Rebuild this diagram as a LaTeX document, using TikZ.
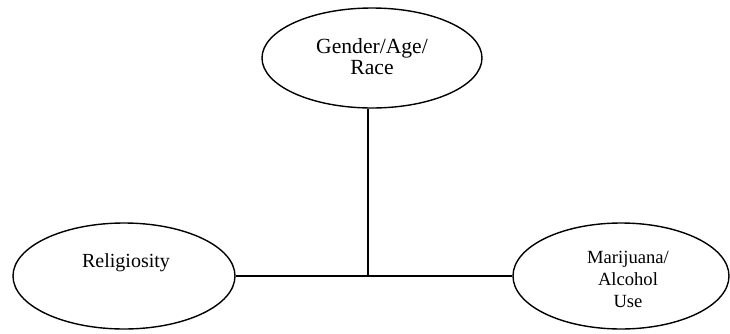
\documentclass[tikz,border=0pt]{standalone}
\usepackage{fontspec}
\setmainfont{Liberation Serif}
\usetikzlibrary{shapes.geometric}
\begin{document}
\begin{tikzpicture}[x=0.5pt,y=-0.5pt,
  oval/.style={draw, ellipse, line width=0.7pt, inner sep=0pt},
  lbl/.style={align=center, inner sep=0pt},
  conn/.style={line width=0.7pt}]
\useasboundingbox (0,0) rectangle (730,333);
\node[oval, minimum width=110pt, minimum height=50pt] (top) at (372,58) {};
\node[oval, minimum width=111pt, minimum height=53pt] (left) at (124,276) {};
\node[oval, minimum width=108pt, minimum height=53pt] (right) at (621,276) {};
\node[lbl, font=\fontsize{10.8}{10.5}\selectfont] (toplbl) at (372,57) {Gender/Age/\\Race};
\node[lbl, font=\fontsize{10}{12}\selectfont] (leftlbl) at (126,263) {Religiosity};
\node[lbl, font=\fontsize{9.3}{11}\selectfont] (rightlbl) at (628,279) {Marijuana/\\Alcohol\\Use};
\coordinate (j) at (368,276);
\draw[conn] (j |- top.south) -- (j);
\draw[conn] (left.east) -- (right.west);
\end{tikzpicture}
\end{document}
